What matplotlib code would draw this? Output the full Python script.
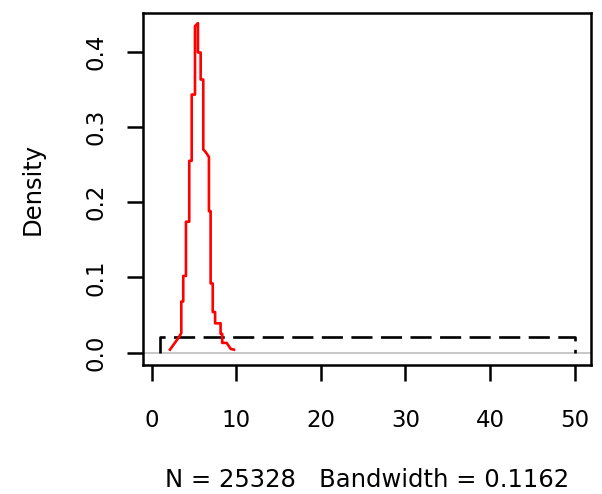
import matplotlib
matplotlib.use("Agg")
import matplotlib.pyplot as plt

plt.rcParams['font.family'] = ['DejaVu Sans']

# kernel density estimate
density_x = [2.13, 3.15, 3.47, 3.47, 3.70, 3.70, 4.02, 4.02, 4.41, 4.41, 4.70, 4.70,
             5.09, 5.09, 5.44, 5.44, 5.76, 5.76, 6.07, 6.07, 6.33, 6.74, 6.74, 6.94,
             6.94, 7.19, 7.19, 7.47, 7.47, 8.12, 8.12, 8.31, 8.31, 8.84, 9.31, 9.70]
density_y = [0.004, 0.020, 0.026, 0.068, 0.068, 0.102, 0.102, 0.174, 0.174, 0.255,
             0.255, 0.343, 0.343, 0.434, 0.438, 0.399, 0.399, 0.363, 0.363, 0.270,
             0.267, 0.260, 0.188, 0.188, 0.092, 0.092, 0.054, 0.054, 0.039, 0.039,
             0.025, 0.025, 0.013, 0.013, 0.005, 0.004]

# uniform reference density on 1..50
unif_x = [1, 1, 50, 50]
unif_y = [0, 1 / 49, 1 / 49, 0]

xticks = [0, 10, 20, 30, 40, 50]
yticks = [0.0, 0.1, 0.2, 0.3, 0.4]

fig = plt.figure(figsize=(6.02, 4.94), dpi=100)
ax = fig.add_axes([0.238, 0.261, 0.743, 0.712])

ax.axhline(0, color='#bebebe', lw=1.2, zorder=1)
ax.plot(unif_x, unif_y, color='black', lw=1.9, dashes=(8, 3.2), zorder=2)
ax.plot(density_x, density_y, color='red', lw=1.9, zorder=3)

ax.set_xlim(-1.03, 51.9)
ax.set_ylim(-0.0165, 0.451)

ax.set_xticks(xticks)
ax.set_xticklabels([str(t) for t in xticks])
ax.set_yticks(yticks)
ax.set_yticklabels([f"{t:.1f}" for t in yticks], rotation=90, va='center')

for s in ax.spines.values():
    s.set_linewidth(1.8)
ax.tick_params(axis='both', length=11.5, width=1.8, labelsize=16.5)
ax.tick_params(axis='x', pad=20)
ax.tick_params(axis='y', pad=14)

ax.set_xlabel("N = 25328   Bandwidth = 0.1162", fontsize=17.5, labelpad=26)
ax.set_ylabel("Density", fontsize=17.5, labelpad=29)

fig.savefig("out.png", dpi=100)
